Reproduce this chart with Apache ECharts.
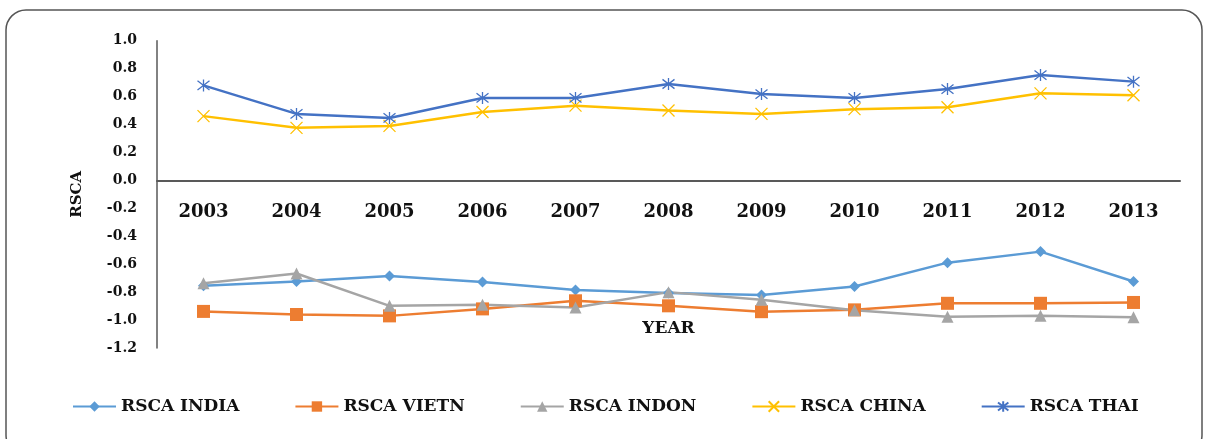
<!DOCTYPE html>
<html>
<head>
<meta charset="utf-8">
<script src="https://cdn.jsdelivr.net/npm/echarts@6/dist/echarts.min.js"></script>
<style>
  html, body { margin: 0; padding: 0; background: #fff; }
  #main { width: 1205px; height: 439px; }
</style>
</head>
<body>
<div id="main"></div>
<script>
// data
var years = ['2003','2004','2005','2006','2007','2008','2009','2010','2011','2012','2013'];
var rscaIndia = [-0.755, -0.724, -0.684, -0.727, -0.784, -0.807, -0.82, -0.76, -0.589, -0.51, -0.724];
var rscaVietn = [-0.938, -0.96, -0.97, -0.92, -0.862, -0.898, -0.94, -0.927, -0.88, -0.88, -0.874];
var rscaIndon = [-0.736, -0.667, -0.898, -0.89, -0.91, -0.80, -0.855, -0.93, -0.976, -0.97, -0.98];
var rscaChina = [0.46, 0.376, 0.39, 0.49, 0.535, 0.50, 0.476, 0.51, 0.523, 0.623, 0.61];
var rscaThai = [0.68, 0.476, 0.447, 0.59, 0.59, 0.69, 0.618, 0.59, 0.654, 0.754, 0.707];
var yMin = -1.2, yMax = 1.0, yStep = 0.2;

var font = '"DejaVu Serif", "Liberation Serif", serif';
var xSymbol = 'path://M0,0L10,10M10,0L0,10';
var starSymbol = 'path://M0,0L10,10M10,0L0,10M5,-1.5L5,11.5';

function lineSeries(name, data, color, symbol, size, stroke) {
    return {
        name: name,
        type: 'line',
        data: data,
        symbol: symbol,
        symbolSize: size,
        showAllSymbol: true,
        lineStyle: { color: color, width: 2.5 },
        itemStyle: stroke
            ? { color: color, borderColor: color, borderWidth: 1.3 }
            : { color: color },
        emphasis: { disabled: true }
    };
}

var myChart = echarts.init(document.getElementById('main'));
var option = {
    animation: false,
    backgroundColor: '#fff',
    graphic: [{
        type: 'rect',
        shape: { x: 6, y: 10, width: 1196, height: 445, r: 20 },
        style: { fill: 'none', stroke: '#555', lineWidth: 1.5 },
        silent: true
    }],
    grid: { left: 157, right: 25, top: 40.7, bottom: 91, containLabel: false, outerBoundsMode: 'none' },
    legend: {
        left: 67,
        top: 393,
        itemWidth: 43,
        itemHeight: 13,
        itemGap: 55,
        textStyle: { fontFamily: font, fontWeight: 'bold', fontSize: 17, color: '#111' },
        data: ['RSCA INDIA', 'RSCA VIETN', 'RSCA INDON', 'RSCA CHINA', 'RSCA THAI']
    },
    xAxis: {
        type: 'category',
        data: years,
        boundaryGap: true,
        name: 'YEAR',
        nameLocation: 'middle',
        nameGap: -28,
        nameTextStyle: { fontFamily: font, fontWeight: 'bold', fontSize: 17, color: '#111' },
        axisLine: { onZero: true, lineStyle: { color: '#595959', width: 2 } },
        axisTick: { show: false },
        splitLine: { show: false },
        axisLabel: { margin: -145, fontFamily: font, fontWeight: 'bold', fontSize: 18, color: '#111' }
    },
    yAxis: {
        type: 'value',
        min: yMin,
        max: yMax,
        interval: yStep,
        name: 'RSCA',
        nameLocation: 'middle',
        nameRotate: 90,
        nameGap: 72,
        nameTextStyle: { fontFamily: font, fontWeight: 'bold', fontSize: 15, color: '#111' },
        axisLine: { show: true, lineStyle: { color: '#595959', width: 1.5 } },
        axisTick: { show: false },
        splitLine: { show: false },
        axisLabel: {
            margin: 20,
            fontFamily: font, fontWeight: 'bold', fontSize: 14, color: '#111',
            formatter: function (v) {
                if (Math.abs(v) < 1e-9) return '0.0';
                return v.toFixed(1);
            }
        }
    },
    series: [
        lineSeries('RSCA INDIA', rscaIndia, '#5B9BD5', 'diamond', 11, false),
        lineSeries('RSCA VIETN', rscaVietn, '#ED7D31', 'rect', 13, false),
        lineSeries('RSCA INDON', rscaIndon, '#A5A5A5', 'triangle', 12, false),
        lineSeries('RSCA CHINA', rscaChina, '#FFC000', xSymbol, 12, true),
        lineSeries('RSCA THAI', rscaThai, '#4472C4', starSymbol, 12, true)
    ]
};
myChart.setOption(option);
</script>
</body>
</html>
